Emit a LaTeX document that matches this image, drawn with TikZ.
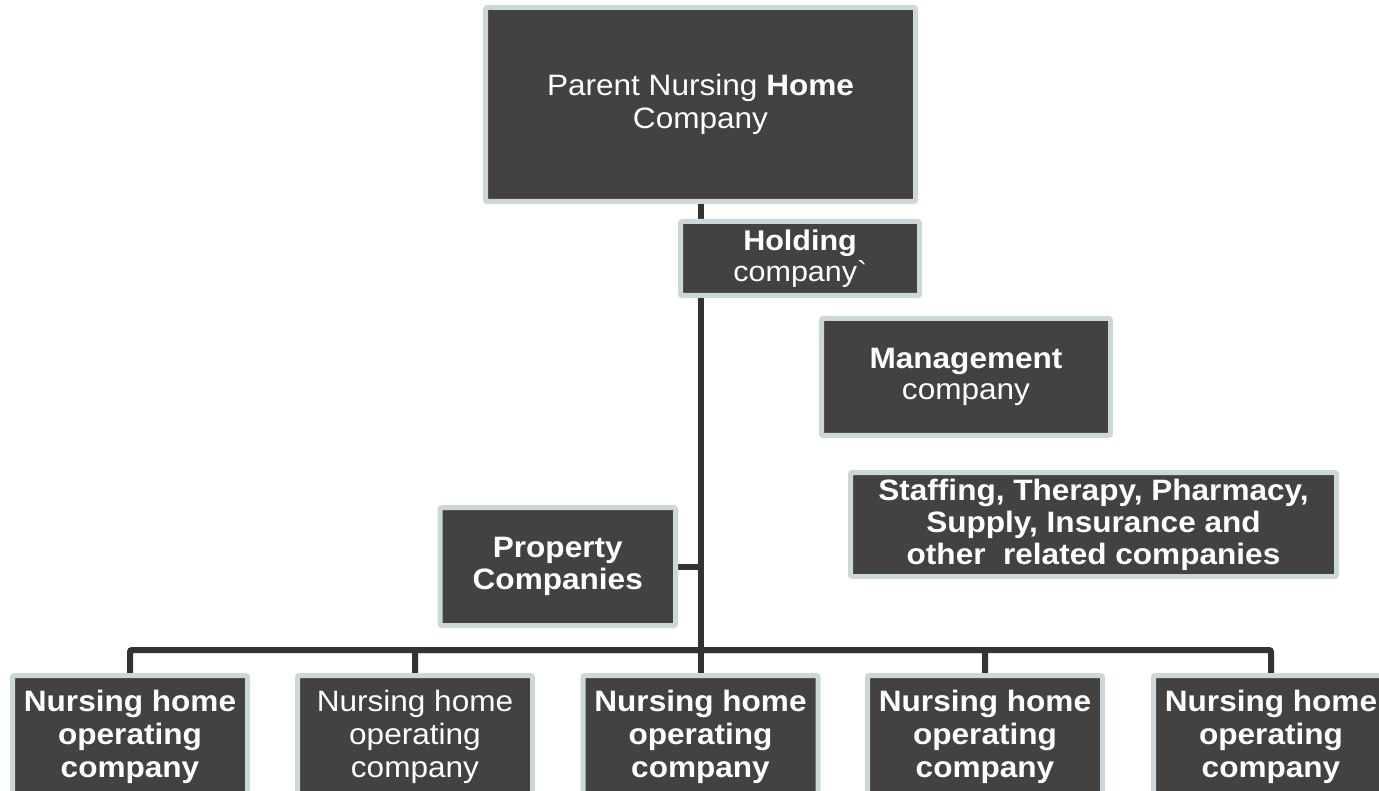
\documentclass[tikz,border=0pt]{standalone}
\usepackage{fontspec}
\setmainfont[FakeStretch=1.07]{Liberation Sans}
\usetikzlibrary{backgrounds}
\definecolor{boxfill}{HTML}{434240}
\definecolor{boxedge}{HTML}{CDD7DA}
\definecolor{linkcol}{HTML}{333333}
\tikzset{
  orgbox/.style={rectangle, fill=boxfill, draw=boxedge, line width=5pt,
    rounded corners=2pt, inner sep=0pt, text=white, align=center},
  opbox/.style={orgbox, minimum width=235pt, minimum height=123pt,
    font=\fontsize{29.5}{33}\selectfont},
  link/.style={draw=linkcol, line width=6pt}
}
\begin{document}
\begin{tikzpicture}[x=1pt,y=-1pt]
\useasboundingbox (0,0) rectangle (1379,791);
\clip (0,0) rectangle (1379,791);

% top of the structure
\node[orgbox, minimum width=430pt, minimum height=194pt,
  font=\fontsize{29.5}{32.5}\selectfont] (parent) at (700.5,104.5)
  {Parent Nursing \textbf{Home}\\Company};
\node[orgbox, minimum width=239pt, minimum height=74pt,
  font=\fontsize{28.5}{31}\selectfont] (holding) at (800,258.5)
  {\textbf{Holding}\\company\textasciigrave};
\node[orgbox, minimum width=289pt, minimum height=117pt,
  font=\fontsize{29.5}{31}\selectfont] (mgmt) at (966,377)
  {\textbf{Management}\\company};
\node[orgbox, minimum width=486pt, minimum height=104pt,
  font=\fontsize{29.5}{32}\bfseries\selectfont] (related) at (1093.5,524.5)
  {Staffing, Therapy, Pharmacy,\\Supply, Insurance and\\other\ \ related companies};
\node[orgbox, minimum width=235.5pt, minimum height=118pt,
  font=\fontsize{29.5}{32}\bfseries\selectfont] (prop) at (557.75,566.5)
  {Property\\Companies};

% operating companies
\node[opbox] (op1) at (130,737) {\textbf{Nursing home}\\\textbf{operating}\\\textbf{company}};
\node[opbox] (op2) at (415,737) {Nursing home\\operating\\company};
\node[opbox] (op3) at (700.5,737) {\textbf{Nursing home}\\\textbf{operating}\\\textbf{company}};
\node[opbox] (op4) at (985,737) {\textbf{Nursing home}\\\textbf{operating}\\\textbf{company}};
\node[opbox] (op5) at (1271,737) {\textbf{Nursing home}\\\textbf{operating}\\\textbf{company}};

% connectors behind the boxes
\begin{pgfonlayer}{background}
  \coordinate (bus) at (700.5,650);
  \draw[link] (parent.south) -- (bus);
  \foreach \b in {op1,op2,op3,op4,op5}
    \draw[link, rounded corners=2pt] (bus) -| (\b.north);
  \draw[link] (prop.east) -- (prop.east -| bus);
\end{pgfonlayer}
\end{tikzpicture}
\end{document}
